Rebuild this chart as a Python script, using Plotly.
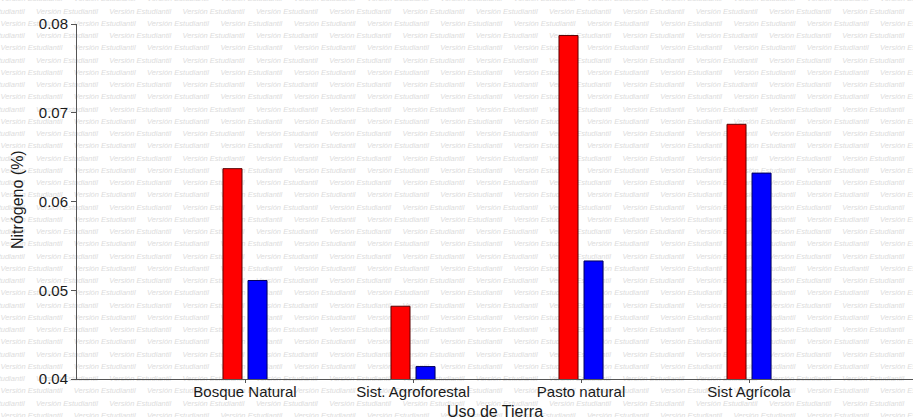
import plotly.graph_objects as go

# ---- data ----
categories = ["Bosque Natural", "Sist. Agroforestal", "Pasto natural", "Sist Agrícola"]
serie_roja = [0.0637, 0.0482, 0.0787, 0.0687]
serie_azul = [0.0511, 0.0414, 0.0533, 0.0632]
y_ticks = [0.04, 0.05, 0.06, 0.07, 0.08]
y_tick_labels = ["0.04", "0.05", "0.06", "0.07", "0.08"]
watermark_text = "Versión Estudiantil"
y_title = "Nitrógeno (%)"
x_title = "Uso de Tierra"

W, H = 913, 417
FONT = "Liberation Sans, Arial, sans-serif"

fig = go.Figure()

# ---- background watermark (subplot xy, full page, drawn below bars) ----
wx, wy = [], []
row_step = 12.25
period = 73.3
for r in range(-1, 36):
    yy = 11.7 + row_step * r
    start = 36.0 if r % 2 == 0 else 0.5
    x0 = start
    while x0 > -80:
        x0 -= period
    while x0 < W + 5:
        wx.append(x0)
        wy.append(yy)
        x0 += period
fig.add_trace(go.Scatter(
    x=wx, y=wy, mode="text", text=[watermark_text] * len(wx),
    textposition="middle right",
    textfont=dict(family=FONT, size=7.5, color="#dcdcdc", style="italic"),
    hoverinfo="skip", showlegend=False, xaxis="x", yaxis="y",
))

# ---- bars ----
fig.add_trace(go.Bar(
    x=categories, y=serie_roja, xaxis="x2", yaxis="y2",
    marker=dict(color="#ff0000", line=dict(color="#5a0000", width=1)),
    showlegend=False,
))
fig.add_trace(go.Bar(
    x=categories, y=serie_azul, xaxis="x2", yaxis="y2",
    marker=dict(color="#0000ff", line=dict(color="#00005a", width=1)),
    showlegend=False,
))

x_left = 77 / W
y_bot = 1 - 379 / H
y_top = 1 - 24 / H

fig.update_layout(
    template="none",
    width=W, height=H,
    margin=dict(l=0, r=0, t=0, b=0, pad=0),
    paper_bgcolor="white",
    plot_bgcolor="rgba(0,0,0,0)",
    showlegend=False,
    barmode="group", bargap=0.702, bargroupgap=0.24,
    font=dict(family=FONT, color="#1a1a1a"),
    xaxis=dict(visible=False, range=[0, W], domain=[0, 1], fixedrange=True,
               automargin=False),
    yaxis=dict(visible=False, range=[H, 0], domain=[0, 1], fixedrange=True,
               automargin=False),
    xaxis2=dict(
        domain=[x_left, 1], anchor="y2", type="category",
        range=[-1, 3.976], showline=True, linecolor="#555555", linewidth=1,
        ticks="outside", ticklen=3, tickcolor="#555555", tickwidth=1,
        ticklabelstandoff=-4,
        tickfont=dict(size=15, family=FONT, color="#1a1a1a"),
        showgrid=False, zeroline=False, fixedrange=True, automargin=False,
    ),
    yaxis2=dict(
        domain=[y_bot, y_top], anchor="x2",
        range=[0.04, 0.08], tickvals=y_ticks, ticktext=y_tick_labels,
        showline=True, linecolor="#555555", linewidth=1,
        ticks="outside", ticklen=5, tickcolor="#555555", tickwidth=1,
        tickfont=dict(size=15, family=FONT, color="#1a1a1a"),
        showgrid=False, zeroline=False, fixedrange=True, automargin=False,
    ),
    annotations=[
        dict(text=y_title, x=17 / W, y=1 - 200 / H, xref="paper", yref="paper",
             textangle=-90, showarrow=False, xanchor="center", yanchor="middle",
             font=dict(size=16, family=FONT, color="#1a1a1a")),
        dict(text=x_title, x=495 / W, y=1 - 411 / H, xref="paper", yref="paper",
             showarrow=False, xanchor="center", yanchor="middle",
             font=dict(size=16, family=FONT, color="#1a1a1a")),
    ],
)

fig.write_html(
    "out.html",
    config={"displayModeBar": False},
    post_script="document.body.style.margin='0';document.body.style.overflow='hidden';",
)
